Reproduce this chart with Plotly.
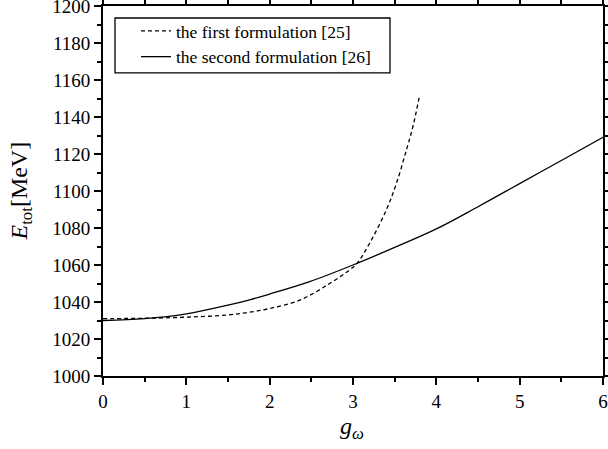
import plotly.graph_objects as go

# first formulation [25] (dashed)
g1 = [0.0, 0.5, 1.0, 1.5, 1.76, 2.0, 2.36, 2.72, 2.96, 3.05, 3.2, 3.4, 3.52, 3.64, 3.72, 3.8]
e1 = [1031.0, 1031.2, 1031.8, 1033.0, 1034.5, 1036.5, 1041.0, 1050.0, 1057.4, 1061.0, 1071.8, 1089.8, 1104.0, 1122.0, 1135.0, 1152.0]

# second formulation [26] (solid)
g2 = [0.0, 0.5, 1.0, 1.5, 1.76, 2.0, 2.48, 3.0, 3.5, 4.0, 4.5, 5.0, 5.5, 6.0]
e2 = [1030.0, 1031.0, 1033.6, 1038.3, 1041.2, 1044.3, 1051.0, 1060.0, 1069.5, 1079.5, 1091.5, 1104.0, 1116.5, 1129.0]

x_ticks = [0, 1, 2, 3, 4, 5, 6]
y_ticks = [1000, 1020, 1040, 1060, 1080, 1100, 1120, 1140, 1160, 1180, 1200]

FONT = "Liberation Serif, Times New Roman, serif"

fig = go.Figure()
fig.add_trace(go.Scatter(x=g1, y=e1, mode="lines", name="the first formulation [25]",
                         line=dict(color="black", width=1.3, dash="4px,3px", shape="spline")))
fig.add_trace(go.Scatter(x=g2, y=e2, mode="lines", name="the second formulation [26]",
                         line=dict(color="black", width=1.3, shape="spline")))

axis_common = dict(showgrid=False, zeroline=False, showline=True, linecolor="black", linewidth=2,
                   mirror="allticks", ticks="outside", ticklen=7, tickwidth=1.5, tickcolor="black",
                   automargin=False, tickmode="array", ticklabeloverflow="allow",
                   tickfont=dict(family=FONT, size=19, color="black"))

fig.update_xaxes(range=[0, 6], tickvals=x_ticks,
                 minor=dict(dtick=0.5, tick0=0, ticks="outside", ticklen=4, tickwidth=1.5, tickcolor="black"),
                 **axis_common)
fig.update_yaxes(range=[1000, 1200], tickvals=y_ticks,
                 minor=dict(dtick=10, tick0=1000, ticks="outside", ticklen=4, tickwidth=1.5, tickcolor="black"),
                 **axis_common)

fig.add_annotation(text="<i>g</i><sub><i>ω</i></sub>", xref="paper", yref="paper",
                   x=0.497, y=-0.095, xanchor="center", yanchor="top", showarrow=False,
                   font=dict(family=FONT, size=24, color="black"))
fig.add_annotation(text="<i>E</i><sub>tot</sub>[MeV]", xref="paper", yref="paper",
                   x=-0.165, y=0.5, xanchor="center", yanchor="middle", showarrow=False, textangle=-90,
                   font=dict(family=FONT, size=24, color="black"))

# legend frame
fig.add_shape(type="rect", xref="paper", yref="paper", x0=0.024, x1=0.574, y0=0.819, y1=0.9676,
              line=dict(color="black", width=1.3), fillcolor="white", layer="below")

fig.update_layout(
    width=608, height=449,
    margin=dict(l=103, r=5, t=6, b=73),
    paper_bgcolor="white", plot_bgcolor="white",
    showlegend=True,
    legend=dict(x=0.066, y=0.981, xanchor="left", yanchor="top",
                bgcolor="rgba(0,0,0,0)", borderwidth=0,
                font=dict(family=FONT, size=17.5, color="black"),
                tracegroupgap=0, itemwidth=30),
)

fig.write_html("out.html", config={"displayModeBar": False},
               post_script="document.body.style.margin='0';document.body.style.padding='0';"
                           "document.documentElement.style.overflow='hidden';")
